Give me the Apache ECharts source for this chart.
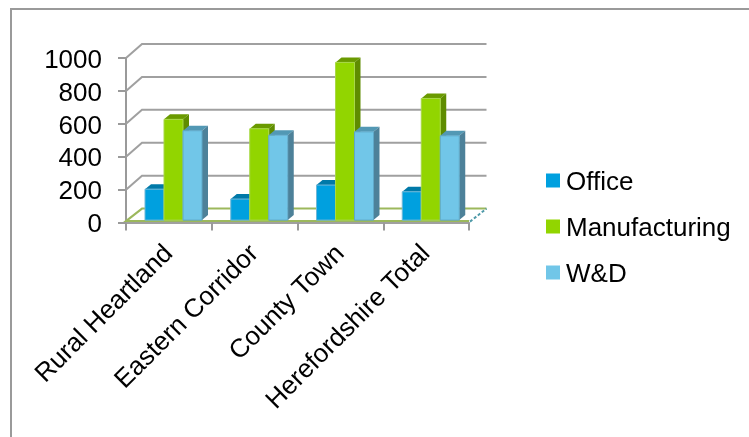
<!DOCTYPE html>
<html>
<head>
<meta charset="utf-8">
<style>html,body{margin:0;padding:0;background:#fff}#c{width:749px;height:437px}</style>
<script src="https://cdn.jsdelivr.net/npm/echarts@6/dist/echarts.min.js"></script>
</head>
<body>
<div id="c"></div>
<script>
const categories = ['Rural Heartland', 'Eastern Corridor', 'County Town', 'Herefordshire Total'];
const office = [188, 128, 213, 172];
const manufacturing = [612, 555, 958, 739];
const wd = [543, 516, 536, 512];
const yTicks = [0, 200, 400, 600, 800, 1000];

const FONT = '"Liberation Sans", Arial, sans-serif';
const DEPTH_X = 16, DEPTH_Y = 14;     // floor and wall depth
const BAR_DX = 6, BAR_DY = 5;         // bar depth
const BAR_W = 19, BAR_LEFT = 19, BAR_LIFT = 2.5;

// Text style that sits slightly below the vertical centre of its row
const loweredText = { fontFamily: FONT, fontSize: 26, color: '#000', padding: [5, 0, 0, 1] };

function barSeries(name, values, slot, front, top, side, edge) {
  return {
    name, type: 'custom', z: 3 + slot,
    itemStyle: { color: front },
    encode: { x: 0, y: 1 },
    data: values.map((v, i) => [i, v]),
    renderItem(params, api) {
      const bottom = api.coord([api.value(0), 0]);
      const head = api.coord([api.value(0), api.value(1)]);
      const band = api.size([1, 0])[0];
      const x = bottom[0] - band / 2 + BAR_LEFT + slot * BAR_W;
      const y0 = bottom[1] - BAR_LIFT, y1 = head[1] - BAR_LIFT;
      const stroke = { stroke: edge, lineWidth: 1 };
      return {
        type: 'group',
        children: [
          { type: 'polygon', shape: { points: [[x, y1], [x + BAR_DX, y1 - BAR_DY], [x + BAR_W + BAR_DX, y1 - BAR_DY], [x + BAR_W, y1]] }, style: { fill: top } },
          { type: 'polygon', shape: { points: [[x + BAR_W, y1], [x + BAR_W + BAR_DX, y1 - BAR_DY], [x + BAR_W + BAR_DX, y0 - BAR_DY], [x + BAR_W, y0]] }, style: { fill: side } },
          { type: 'rect', shape: { x, y: y1, width: BAR_W, height: y0 - y1 }, style: Object.assign({ fill: front }, stroke) }
        ]
      };
    }
  };
}

// Back wall gridlines run from the axis into the depth and across; the zero line outlines the floor
const wallSeries = {
  type: 'custom', z: 1, silent: true, legendHoverLink: false,
  encode: { y: 0 },
  data: yTicks.map(v => [v]),
  renderItem(params, api) {
    const r = params.coordSys;
    const y = api.coord([0, api.value(0)])[1];
    const right = r.x + r.width;
    if (api.value(0) === 0) {
      return {
        type: 'group',
        children: [
          { type: 'polyline', shape: { points: [[right, y - 1.5], [r.x, y - 1.5], [r.x + DEPTH_X, y - DEPTH_Y], [right + DEPTH_X + 1.5, y - DEPTH_Y]] },
            style: { fill: 'none', stroke: '#9cb85c', lineWidth: 2 } },
          { type: 'line', shape: { x1: right + 1, y1: y - 1, x2: right + DEPTH_X + 1.5, y2: y - DEPTH_Y },
            style: { stroke: '#4f9aa8', lineWidth: 2, lineDash: [3, 2] } }
        ]
      };
    }
    return {
      type: 'polyline',
      shape: { points: [[r.x, y], [r.x + DEPTH_X, y - DEPTH_Y], [right + DEPTH_X + 1.5, y - DEPTH_Y]] },
      style: { fill: 'none', stroke: '#a0a0a0', lineWidth: 2 }
    };
  }
};

const chart = echarts.init(document.getElementById('c'), null, { renderer: 'canvas' });
chart.setOption({
  animation: false,
  backgroundColor: '#fff',
  graphic: [{
    type: 'polyline', silent: true, z: 0,
    shape: { points: [[11, 437], [11, 9], [749, 9]] },
    style: { fill: 'none', stroke: '#9a9a9a', lineWidth: 2 }
  }],
  grid: { left: 126, top: 58, width: 343, height: 164.6, containLabel: false },
  legend: {
    orient: 'vertical', left: 546, top: 170, padding: 0, itemWidth: 14, itemHeight: 14, itemGap: 20, icon: 'rect',
    data: ['Office', 'Manufacturing', 'W&D'],
    formatter: name => '{t|' + name + '}',
    textStyle: { fontFamily: FONT, fontSize: 26, color: '#000', rich: { t: loweredText } }
  },
  xAxis: {
    type: 'category', data: categories, boundaryGap: true,
    axisLine: { show: true, lineStyle: { color: '#a0a0a0', width: 2 } },
    axisTick: { show: true, alignWithLabel: false, length: 8, lineStyle: { color: '#9a9a9a', width: 2 } },
    axisLabel: { rotate: 45, fontFamily: FONT, fontSize: 26, color: '#000', margin: 27, interval: 0 },
    splitLine: { show: false }
  },
  yAxis: {
    type: 'value', min: 0, max: 1000, interval: 200,
    axisLine: { show: true, lineStyle: { color: '#9a9a9a', width: 2 } },
    axisTick: { show: true, length: 8, lineStyle: { color: '#9a9a9a', width: 2 } },
    axisLabel: { fontFamily: FONT, fontSize: 26, color: '#000', margin: 24, formatter: v => '{t|' + v + '}', rich: { t: loweredText } },
    splitLine: { show: false }
  },
  series: [
    wallSeries,
    barSeries('Office', office, 0, '#00a0df', '#0079a8', '#0079a8', '#6fb7d8'),
    barSeries('Manufacturing', manufacturing, 1, '#92d500', '#6a9a00', '#5f8c00', '#a8d848'),
    barSeries('W&D', wd, 2, '#71c6e8', '#5298b4', '#4d8199', '#5fa8c8')
  ]
});
</script>
</body>
</html>
